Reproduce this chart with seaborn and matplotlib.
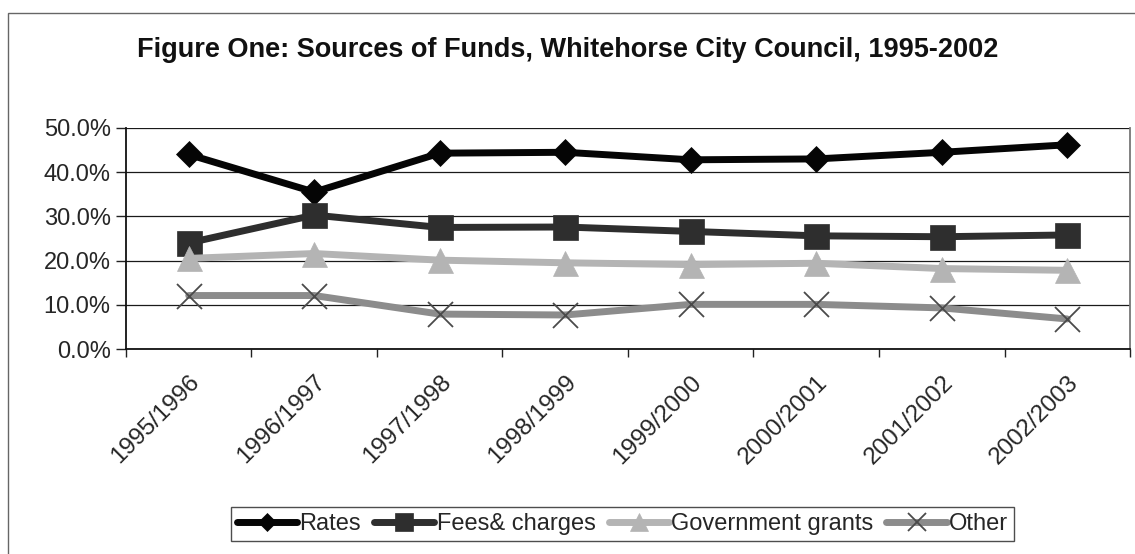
import matplotlib
matplotlib.use("Agg")
import matplotlib.pyplot as plt
import seaborn as sns
import numpy as np
import pandas as pd
from matplotlib.ticker import PercentFormatter, FixedLocator
from matplotlib.lines import Line2D

categories = ["1995/1996", "1996/1997", "1997/1998", "1998/1999",
              "1999/2000", "2000/2001", "2001/2002", "2002/2003"]
rates = [0.440, 0.355, 0.443, 0.445, 0.428, 0.430, 0.445, 0.462]
fees = [0.240, 0.303, 0.275, 0.276, 0.266, 0.256, 0.254, 0.258]
grants = [0.205, 0.216, 0.201, 0.195, 0.191, 0.194, 0.182, 0.178]
other = [0.121, 0.121, 0.079, 0.077, 0.101, 0.101, 0.093, 0.068]
series_names = ["Rates", "Fees& charges", "Government grants", "Other"]
title = "Figure One: Sources of Funds, Whitehorse City Council, 1995-2002"

sns.set_theme(style="white")
plt.rcParams['font.family'] = ['Liberation Sans', 'DejaVu Sans']

fig = plt.figure(figsize=(11.35, 5.54), dpi=100)
ax = fig.add_axes([0.111, 0.370, 0.8846, 0.399])

styles = [
    dict(color="#050505", marker="D", markersize=13, mec="#050505", mew=0.5),
    dict(color="#2e2e2e", marker="s", markersize=18, mec="#2e2e2e", mew=0.5),
    dict(color="#b4b4b4", marker="^", markersize=18, mec="#b4b4b4", mew=0.5),
    dict(color="#8c8c8c", marker="x", markersize=18, mec="#4a4a4a", mew=1.3),
]
data = [rates, fees, grants, other]

handles = []
for name, vals, st in zip(series_names, data, styles):
    df = pd.DataFrame({"year": categories, "value": vals})
    sns.pointplot(data=df, x="year", y="value", ax=ax, color=st["color"],
                  markers=st["marker"], linestyles="-", errorbar=None,
                  markersize=st["markersize"], linewidth=5,
                  markeredgecolor=st["mec"], markeredgewidth=st["mew"],
                  zorder=3)
    handles.append(Line2D([], [], color=st["color"], lw=5, marker=st["marker"],
                          markersize=st["markersize"] * 0.72,
                          markeredgecolor=st["mec"], markeredgewidth=st["mew"],
                          markerfacecolor=st["color"]))

ax.set_xlim(-0.5, len(categories) - 0.5)
ax.set_ylim(0, 0.5)
ax.set_yticks([0, 0.1, 0.2, 0.3, 0.4, 0.5])
ax.yaxis.set_major_formatter(PercentFormatter(1.0, decimals=1))
ax.yaxis.grid(True, color="#1a1a1a", lw=0.9)
ax.xaxis.grid(False)
ax.set_axisbelow(True)
ax.set_xlabel("")
ax.set_ylabel("")

ax.set_xticks(range(len(categories)))
ax.set_xticklabels(categories, rotation=45, ha="right", va="top",
                   rotation_mode="anchor", fontsize=17.5)
ax.tick_params(axis="x", which="major", length=0, pad=16)
ax.xaxis.set_minor_locator(FixedLocator(np.arange(-0.5, len(categories), 1.0)))
ax.tick_params(axis="x", which="minor", length=6, width=1, color="#222222",
               direction="out", bottom=True)
ax.tick_params(axis="y", which="major", length=7, width=1, color="#222222",
               direction="out", left=True, labelsize=17, pad=4)

for side in ["left", "bottom"]:
    ax.spines[side].set_color("#111111")
    ax.spines[side].set_linewidth(1.3)
ax.spines["right"].set_color("#777777")
ax.spines["right"].set_linewidth(1.3)
ax.spines["top"].set_visible(False)

fig.text(0.5, 0.91, title, ha="center", va="center", fontsize=19.5,
         fontweight="bold", color="#111111")

leg = fig.legend(handles, series_names, loc="center", ncol=4,
                 bbox_to_anchor=(0.5485, 0.054), fontsize=17, frameon=True,
                 fancybox=False, edgecolor="#222222", handlelength=2.55,
                 handletextpad=0.1, columnspacing=0.55, borderpad=0.25,
                 borderaxespad=0)
leg.get_frame().set_linewidth(1.0)

# outer chart frame (partially off-canvas, as in the scanned reference)
frame = plt.Rectangle((8 / 1135, -0.1), 1.2, 1 - 13 / 554 + 0.1,
                      transform=fig.transFigure, fill=False,
                      edgecolor="#666666", lw=1.0)
fig.patches.append(frame)

fig.savefig("out.png", dpi=100)
